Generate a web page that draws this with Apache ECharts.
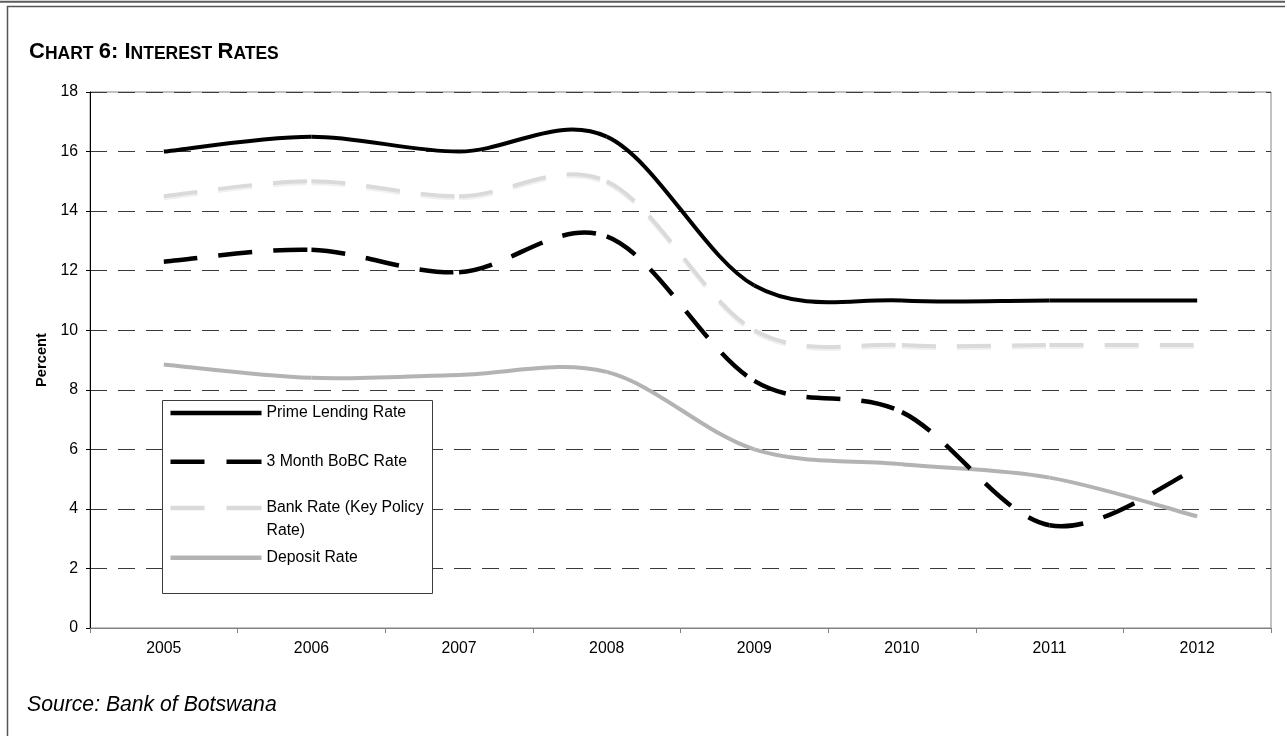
<!DOCTYPE html>
<html>
<head>
<meta charset="utf-8">
<title>Interest Rates</title>
<script src="https://cdn.jsdelivr.net/npm/echarts@6/dist/echarts.min.js"></script>
<style>
  html, body { margin: 0; padding: 0; background: #ffffff; }
  #chart { width: 1285px; height: 736px; }
</style>
</head>
<body>
<div id="chart"></div>
<script>
// Annual observations (percent)
const years = ['2005', '2006', '2007', '2008', '2009', '2010', '2011', '2012'];
const primeLending = [16.0, 16.5, 16.0, 16.5, 11.5, 11.0, 11.0, 11.0];
const bobc3Month   = [12.3, 12.7, 11.95, 13.15, 8.3, 7.25, 3.45, 5.35];
const bankRate     = [14.5, 15.0, 14.5, 15.0, 10.0, 9.5, 9.5, 9.5];
const depositRate  = [8.85, 8.4, 8.5, 8.6, 6.0, 5.5, 5.05, 3.75];

const seriesNames = ['Prime Lending Rate', '3 Month BoBC Rate', 'Bank Rate (Key Policy Rate)', 'Deposit Rate'];
const yMin = 0, yMax = 18, yStep = 2;

const FONT = '"Liberation Sans", Arial, Helvetica, sans-serif';

// Smoothed curve: each segment between two neighbouring years is a cubic
// Bezier whose control points follow the Catmull-Rom rule (tangent = (next - prev) / 6).
// Drawing segment by segment also restarts the dash pattern at every data point.
function splineSegments(values, style) {
  return function (params, api) {
    const i = params.dataIndex;
    const last = values.length - 1;
    if (i >= last) return null;
    const pt = function (k) {
      const j = Math.max(0, Math.min(last, k));
      return api.coord([j, values[j]]);
    };
    const p0 = pt(i - 1), p1 = pt(i), p2 = pt(i + 1), p3 = pt(i + 2);
    return {
      type: 'bezierCurve',
      shape: {
        x1: p1[0], y1: p1[1],
        x2: p2[0], y2: p2[1],
        cpx1: p1[0] + (p2[0] - p0[0]) / 6, cpy1: p1[1] + (p2[1] - p0[1]) / 6,
        cpx2: p2[0] - (p3[0] - p1[0]) / 6, cpy2: p2[1] - (p3[1] - p1[1]) / 6
      },
      style: Object.assign({ fill: null, lineCap: 'butt' }, style),
      silent: true
    };
  };
}

function curveSeries(name, values, color, style, z) {
  return {
    name: name,
    type: 'custom',
    coordinateSystem: 'cartesian2d',
    encode: { x: 0, y: 1 },
    data: values.map(function (v, i) { return [i, v]; }),
    itemStyle: { color: color },
    renderItem: splineSegments(values, Object.assign({ stroke: color }, style)),
    clip: false,
    z: z
  };
}

const DASH = [34, 21];
const solidIcon = 'path://M0,0H91V4.5H0Z';
const dashIcon = 'path://M0,0H34V4.5H0Z M56,0H91V4.5H56Z';

function legendItem(name, icon, top, extra) {
  return Object.assign({
    data: [{ name: name, icon: icon }],
    orient: 'vertical',
    left: 170.5,
    top: top,
    padding: 0,
    itemWidth: 91,
    itemHeight: 4.5,
    itemGap: 5,
    selectedMode: false,
    itemStyle: { borderWidth: 0 },
    textStyle: { fontFamily: FONT, fontSize: 15.8, color: '#000', lineHeight: 18 },
    z: 20
  }, extra || {});
}

const chart = echarts.init(document.getElementById('chart'), null, { renderer: 'canvas' });

chart.setOption({
  animation: false,
  backgroundColor: '#ffffff',
  title: {
    left: 29,
    top: 41,
    padding: 0,
    text: '{b|C}{s|HART} {b|6: I}{s|NTEREST} {b|R}{s|ATES}',
    textStyle: {
      fontFamily: FONT, fontWeight: 'bold', fontSize: 19, color: '#000',
      rich: {
        b: { fontFamily: FONT, fontWeight: 'bold', fontSize: 22, color: '#000', verticalAlign: 'bottom' },
        s: { fontFamily: FONT, fontWeight: 'bold', fontSize: 17.5, color: '#000', verticalAlign: 'bottom' }
      }
    }
  },
  grid: {
    left: 90, top: 92, width: 1181, height: 536,
    show: true, borderColor: '#858585', borderWidth: 1, backgroundColor: 'transparent'
  },
  xAxis: {
    type: 'category',
    data: years,
    boundaryGap: true,
    axisLine: { show: true, lineStyle: { color: '#808080', width: 1 } },
    axisTick: { show: true, length: 5, lineStyle: { color: '#808080' } },
    axisLabel: { fontFamily: FONT, fontSize: 15.8, color: '#000', margin: 13 },
    splitLine: { show: false }
  },
  yAxis: {
    type: 'value',
    min: yMin, max: yMax, interval: yStep,
    name: 'Percent',
    nameLocation: 'middle',
    nameGap: 34,
    nameTextStyle: { fontFamily: FONT, fontWeight: 'bold', fontSize: 14.7, color: '#000' },
    axisLine: { show: true, lineStyle: { color: '#000', width: 1 } },
    axisTick: { show: true, length: 4, lineStyle: { color: '#000' } },
    axisLabel: { fontFamily: FONT, fontSize: 15.8, color: '#000', margin: 12 },
    splitLine: { show: true, lineStyle: { color: '#3a3a3a', width: 1, type: [17, 11] } }
  },
  legend: [
    legendItem(seriesNames[0], solidIcon, 404),
    legendItem(seriesNames[1], dashIcon, 452.7),
    legendItem(seriesNames[2], dashIcon, 473.5, {
      formatter: function (n) { return '\n' + n.replace('Policy ', 'Policy\n'); },
      textStyle: { fontFamily: FONT, fontSize: 15.8, color: '#000', lineHeight: 23 }
    }),
    legendItem(seriesNames[3], solidIcon, 548.7)
  ],
  graphic: [
    { type: 'line', shape: { x1: 0, y1: 1.7, x2: 1285, y2: 1.7 }, style: { stroke: '#5c5c5c', lineWidth: 2 }, z: 1, silent: true },
    { type: 'rect', shape: { x: 7.5, y: 6.5, width: 1300, height: 800 }, style: { fill: null, stroke: '#555', lineWidth: 1.5 }, z: 1, silent: true },
    { type: 'rect', shape: { x: 162.5, y: 400.5, width: 270, height: 193 }, style: { fill: '#fff', stroke: '#3c3c3c', lineWidth: 1 }, z: 10, silent: true },
    { type: 'text', x: 27, y: 705, style: { text: 'Source: Bank of Botswana', font: 'italic 21.2px ' + FONT, fill: '#000', verticalAlign: 'middle' }, z: 1, silent: true }
  ],
  series: [
    curveSeries(seriesNames[3], depositRate, '#b3b3b3', { lineWidth: 4 }, 2),
    curveSeries(seriesNames[2], bankRate, '#dadada', { lineWidth: 4, lineDash: DASH, shadowColor: '#f0f0f0', shadowOffsetY: 2, shadowBlur: 0 }, 3),
    curveSeries(seriesNames[1], bobc3Month, '#000000', { lineWidth: 4.5, lineDash: DASH }, 4),
    curveSeries(seriesNames[0], primeLending, '#000000', { lineWidth: 4 }, 5)
  ]
});
</script>
</body>
</html>
